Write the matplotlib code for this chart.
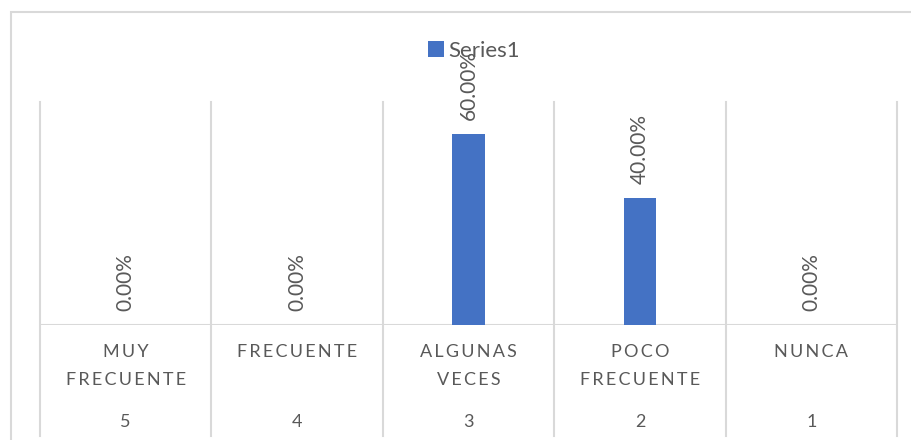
import matplotlib
matplotlib.use("Agg")
import matplotlib.pyplot as plt
from matplotlib.patches import Rectangle
from matplotlib.lines import Line2D
from matplotlib.transforms import blended_transform_factory

# data
categories = ["MUY\nFRECUENTE", "FRECUENTE", "ALGUNAS\nVECES", "POCO\nFRECUENTE", "NUNCA"]
codes = ["5", "4", "3", "2", "1"]
values = [0.0, 0.0, 0.60, 0.40, 0.0]

W, H = 912, 440
fig = plt.figure(figsize=(W / 100, H / 100), dpi=100)
fam = ["Lato", "DejaVu Sans"]
gray = "#595959"
grid = "#d9d9d9"
blue = "#4472c4"

# chart border (right and bottom run off the image)
fig.patches.append(Rectangle((11 / W, -0.5), 2, 1.5 - 12 / H, transform=fig.transFigure,
                             fill=False, edgecolor=grid, lw=1.5))

ax = fig.add_axes([40 / W, (H - 325) / H, (897 - 40) / W, (325 - 102) / H])
x = list(range(len(values)))
ax.bar(x, values, width=0.19, color=blue, zorder=3, label="Series1")
ax.set_xlim(-0.5, len(values) - 0.5)
ax.set_ylim(0, 0.7)
ax.axis("off")

# x in data, y in figure pixels from the top
tr = blended_transform_factory(ax.transData, fig.transFigure)
def fy(py):
    return 1 - py / H

# separators, extended down into the label area
for k in range(len(values) + 1):
    ax.add_line(Line2D([k - 0.5, k - 0.5], [fy(436), fy(102)], transform=tr,
                       color=grid, lw=1.5, clip_on=False, zorder=1))
ax.axhline(0, color=grid, lw=1.5, zorder=2)

# data labels
for xi, v in zip(x, values):
    ax.annotate(f"{v * 100:.2f}%", (xi, v), xytext=(0, 10), textcoords="offset points",
                rotation=90, ha="center", va="bottom", color=gray, fontsize=15, family=fam)

# category labels
sp = "\u2009"
for xi, c, n in zip(x, categories, codes):
    for j, line in enumerate(c.split("\n")):
        ax.text(xi, fy(352 + 28 * j), sp.join(list(line)), transform=tr, ha="center",
                va="center", color=gray, fontsize=13, family=fam)
    ax.text(xi, fy(422), n, transform=tr, ha="center", va="center", color=gray,
            fontsize=13, family=fam)

# legend
leg = fig.legend(loc="center", bbox_to_anchor=(474 / W, fy(51)), frameon=False,
                 handlelength=0.75, handleheight=0.75, handletextpad=0.2,
                 prop={"family": fam, "size": 16})
for t in leg.get_texts():
    t.set_color(gray)

fig.savefig("out.png", dpi=100)
